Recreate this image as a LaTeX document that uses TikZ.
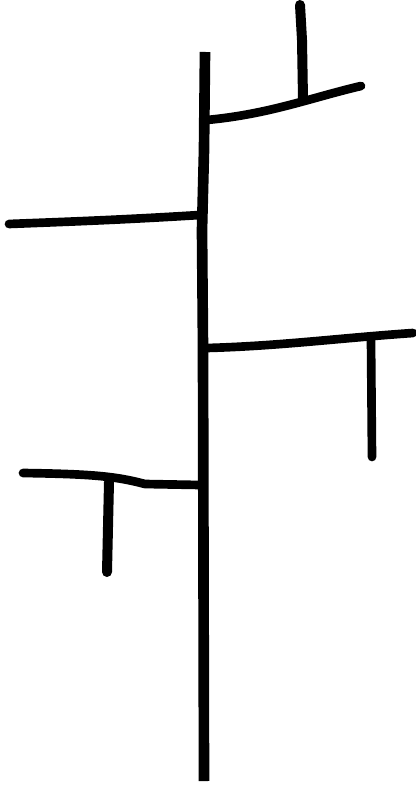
\documentclass[tikz,border=0pt]{standalone}
\usetikzlibrary{calc}

\begin{document}
\begin{tikzpicture}[x=0.75pt, y=-0.75pt,
  trunk/.style={line width=8pt, line cap=butt},
  twig/.style={line width=6.5pt, line cap=round, line join=round},
]
  \useasboundingbox (0,0) rectangle (416,787);

  % main stem
  \coordinate (top) at (205,52);
  \coordinate (bot) at (204,781);
  \draw[trunk] (top) -- (204,150) -- (202,230) -- (203,348) -- (bot);

  % upper right branch
  \coordinate (j1) at (207,120);
  \coordinate (e1) at (361,86);
  \draw[twig] (j1) .. controls (270,114) and (310,98) .. (e1);
  \coordinate (s1) at (300,5);
  \coordinate (f1) at (303,99);
  \draw[twig, line width=7.5pt] (s1) -- (302,40) -- (f1);

  % left branch
  \coordinate (j2) at (200,215);
  \coordinate (e2) at (9,224);
  \draw[twig] (j2) .. controls (120,220) and (60,222) .. (e2);

  % right middle branch
  \coordinate (j3) at (207,348);
  \coordinate (e3) at (413,333);
  \draw[twig] (j3) .. controls (280,346) and (340,338) .. (e3);
  \coordinate (s3) at (371,340);
  \coordinate (f3) at (372,457);
  \draw[twig] (s3) -- (f3);

  % lower left branch
  \coordinate (j4) at (200,485);
  \coordinate (e4) at (23,473);
  \draw[twig] (j4) -- (145,484) .. controls (115,476) and (90,474) .. (e4);
  \coordinate (s4) at (109,482);
  \coordinate (f4) at (107,572);
  \draw[twig, line width=7.5pt] (s4) -- (f4);
\end{tikzpicture}
\end{document}
